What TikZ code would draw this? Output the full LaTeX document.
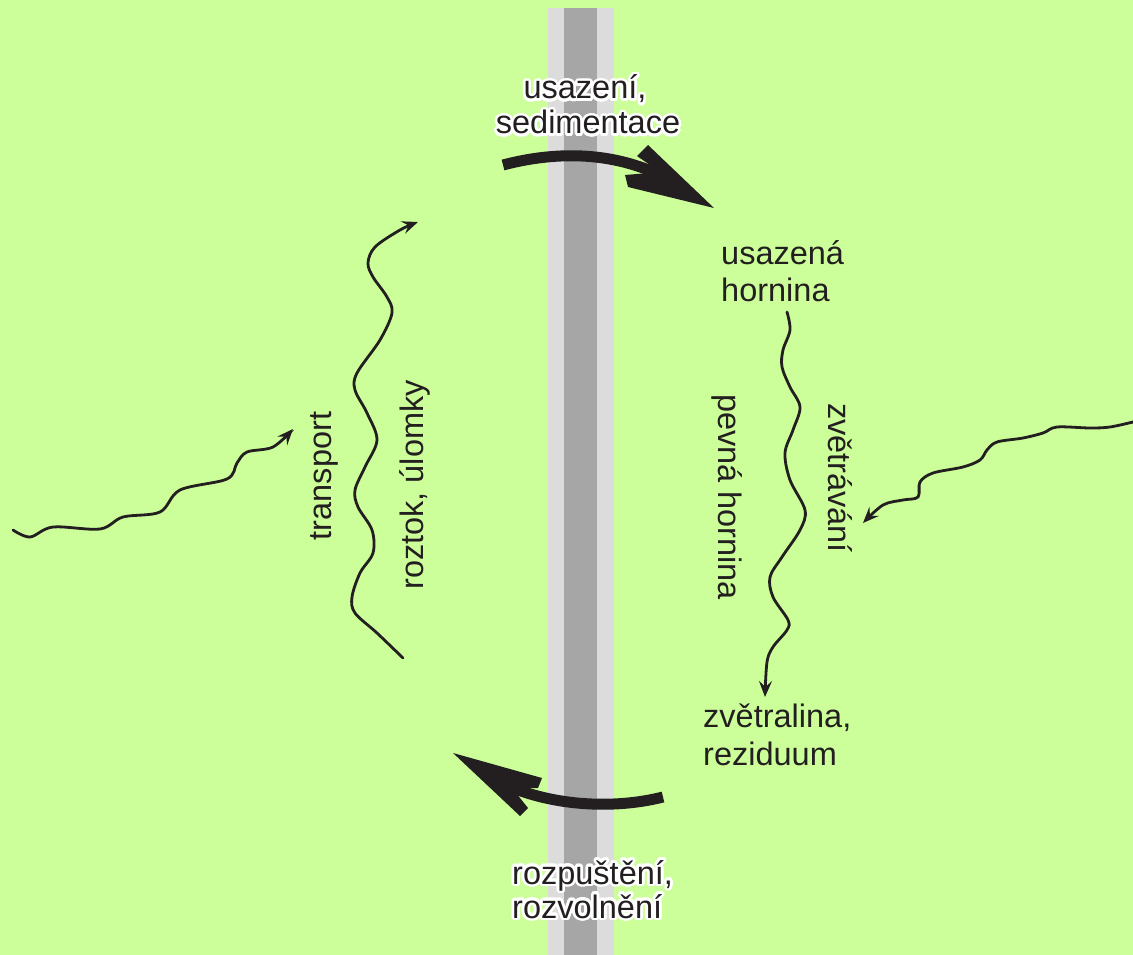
\documentclass[tikz,border=0pt]{standalone}
\usepackage{fontspec}
\setmainfont{Liberation Sans}
\usepackage[copies]{contour}
\contourlength{2.6pt}
\contournumber{32}
\usetikzlibrary{arrows.meta}
\definecolor{bg}{HTML}{CCFF99}
\definecolor{ink}{HTML}{231F20}
\definecolor{lband}{HTML}{DCDCDC}
\definecolor{dband}{HTML}{A6A6A6}
\tikzset{
  lab/.style={inner sep=0pt, text=ink, font=\fontsize{32.5}{36}\selectfont},
  wavy/.style={draw=ink, line width=2.8pt, line cap=round,
    -{Stealth[length=16pt,width=13pt,inset=6pt]}},
  thickarr/.style={draw=ink, line width=11pt},
  headfill/.style={fill=ink},
}
\begin{document}
\begin{tikzpicture}[x=1pt,y=-1pt]
\useasboundingbox (0,0) rectangle (1133,955);
\fill[bg] (0,0) rectangle (1133,955);
% band
\fill[lband] (548,8) rectangle (614,955);
\fill[dband] (564,8) rectangle (597,955);

% top thick arrow
\draw[thickarr] (503,165) .. controls (560,150) and (615,153) .. (662,176);
\fill[headfill] (714,208) -- (648,145) -- (637,156) -- (660,172) -- (625,175) -- (628,187) -- cycle;

% bottom thick arrow
\draw[thickarr] (663,797) .. controls (620,808) and (560,808) .. (508,786);
\fill[headfill] (453,753) -- (542,778) -- (538,788) -- (512,788) -- (528,808) -- (520,816) -- cycle;

% top labels with halo
\node[lab, anchor=base] (u1) at (585,99) {\contour{white}{usazení,}};
\node[lab, anchor=base] (u2) at (588,134) {\contour{white}{sedimentace}};
% bottom labels with halo
\node[lab, anchor=base west] (r1) at (512,884) {\contour{white}{rozpuštění,}};
\node[lab, anchor=base west] (r2) at (512,918) {\contour{white}{rozvolnění}};

% right labels
\node[lab, anchor=base west] (h1) at (721,264) {usazená};
\node[lab, anchor=base west] (h2) at (721,301) {hornina};
\node[lab, anchor=base west] (z1) at (703,727) {zvětralina,};
\node[lab, anchor=base west] (z2) at (703,765) {reziduum};

% rotated labels
\node[lab, rotate=90] (tr) at (324,476) {transport};
\node[lab, rotate=90] (ro) at (415,485) {roztok, úlomky};
\node[lab, rotate=-90] (pe) at (727,497) {pevná hornina};
\node[lab, rotate=-90] (zv) at (840,478) {zvětrávání};

% wavy arrows
\draw[wavy] plot[smooth, tension=0.55] coordinates {(13,530) (30,537) (53,527) (100,529) (123,517) (160,512) (180,490) (227,479) (237,463) (247,452) (273,447) (293,429)};
\draw[wavy] plot[smooth, tension=0.55] coordinates {(403,658) (377,633) (355,613) (352,597) (360,573) (373,553) (372,530) (358,507) (355,490) (365,467) (377,440) (367,413) (355,390) (357,373) (380,340) (392,313) (387,297) (373,277) (368,263) (375,247) (400,230) (418,222)};
\draw[wavy] plot[smooth, tension=0.55] coordinates {(787,312) (790,330) (783,350) (782,367) (790,387) (800,407) (793,430) (785,453) (790,480) (805,510) (800,530) (782,557) (770,577) (773,597) (788,620) (787,630) (773,647) (767,662) (765,697)};
\draw[wavy] plot[smooth, tension=0.55] coordinates {(1133,422) (1110,427) (1090,428) (1057,427) (1043,433) (1023,438) (997,442) (987,450) (980,460) (963,467) (933,473) (920,482) (918,497) (903,500) (883,505) (863,523)};
\end{tikzpicture}
\end{document}
